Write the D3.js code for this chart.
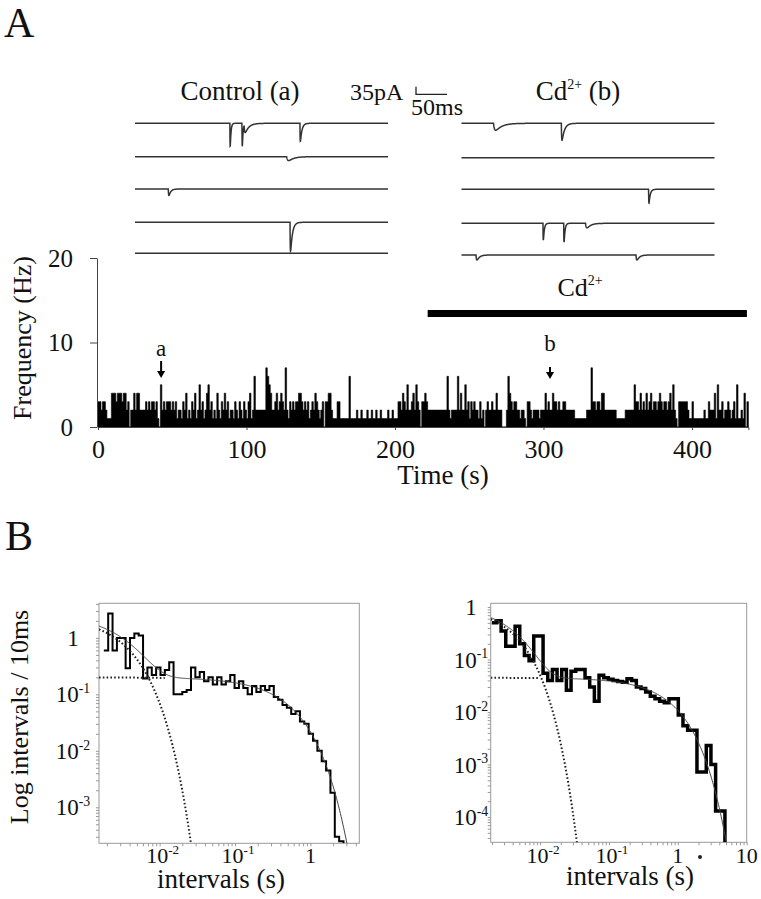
<!DOCTYPE html>
<html><head><meta charset="utf-8">
<script src="https://cdn.jsdelivr.net/npm/d3@7"></script>
<style>
body{margin:0;background:#fff}
svg{display:block;background:#fff}
text{font-family:"Liberation Serif","Times New Roman",serif;fill:#111}
</style>
</head><body>
<svg id="c" width="761" height="899"></svg>
<script>
// ---------------- DATA ----------------
// Panel A: spike frequency per 1-s bin (Hz)
const freqHz = [
3,3,2,3,3,2,1,1,1,4, 4,4,3,4,4,4,3,4,4,2, 3,0,2,2,4,2,4,4,2,2, 2,2,3,2,3,2,3,3,2,3,
1,0,5,2,3,2,3,3,3,2, 3,2,3,1,2,2,1,3,2,4, 1,2,1,3,2,4,1,2,5,2, 3,1,2,4,5,2,3,1,2,1,
4,2,1,3,2,4,2,3,1,2, 2,1,3,2,1,3,2,1,3,2, 1,3,4,1,2,6,2,2,2,2, 2,2,2,7,6,5,4,2,2,3,
4,2,3,4,3,2,7,2,1,3, 2,3,2,3,3,4,4,3,2,3, 2,3,1,2,3,2,4,3,2,1, 2,3,0,3,3,4,4,2,1,1,
1,3,3,1,1,1,1,1,1,6, 1,1,1,1,2,1,1,2,1,1, 1,2,1,1,2,1,1,2,1,1, 2,1,1,1,1,2,1,1,2,1,
1,1,3,3,2,4,3,2,5,2, 2,3,4,2,5,3,2,0,3,3, 4,3,2,2,2,2,2,2,2,2, 2,2,2,2,2,6,2,1,2,2,
2,2,6,2,4,2,2,5,2,3, 1,3,2,3,2,2,1,3,1,2, 0,2,3,2,2,3,2,2,4,2, 2,2,0,0,0,2,6,4,3,2,
3,3,2,2,1,2,2,1,0,3, 3,2,1,2,2,2,2,1,2,2, 2,4,2,3,2,2,4,3,3,2, 3,2,2,3,3,2,2,2,2,2,
2,1,1,1,1,1,1,1,1,2, 2,2,7,3,3,2,3,3,2,4, 4,2,2,2,2,2,2,2,2,1, 1,1,1,1,1,2,2,2,2,2,
2,5,3,3,2,4,2,3,2,4, 2,3,4,2,3,3,2,3,4,3, 2,3,3,2,3,4,2,5,2,1, 0,3,3,3,3,3,3,2,1,1,
3,1,1,1,1,1,1,1,2,1, 1,3,2,2,2,4,1,5,2,2, 3,1,2,2,3,2,1,2,3,1, 5,1,1,2,1,4,0,3
];
const timeTicks = [0, 100, 200, 300, 400];
const timeMinorTicks = [50, 150, 250, 350];
const freqTicks = [0, 10, 20];
const cdPeriod = [222, 437];
const markers = [{label: "a", t: 42.5}, {label: "b", t: 304.4}];

// Current traces: events [time ms, amplitude pA, rise ms, decay ms]
const controlTraces = [
  [[153, 106, 0.3, 1.2], [172.5, 106, 0.3, 1.2], [176, 40, 1, 6], [266, 83, 0.3, 2.5]],
  [[244.6, 18, 2, 8]],
  [[53.7, 30, 0.5, 3]],
  [[250, 133, 0.4, 3]],
  []
];
const cdTraces = [
  [[51.6, 32, 2, 10], [161, 78, 0.5, 4]],
  [],
  [[301.7, 64, 0.3, 2]],
  [[131.4, 78, 0.3, 1.5], [164.8, 87, 0.3, 1.5], [200, 21, 1.5, 6]],
  [[23.4, 23, 1, 4], [281.4, 23, 1, 4]]
];
const traceDuration = 408; // ms
const scaleBar = {pA: 35, ms: 50};

// Panel B: interval histograms (log bins) and two-exponential fits
const histL = {logStart: -2.74, logStep: 0.0578, values: [
 0.6,2.7,0.6,1.0,1.0,0.29,1.0,1.2,1.1,0.19,
 0.3,0.22,0.3,0.22,0.27,0.37,0.1,0.1,0.11,0.12,
 0.3,0.2,0.25,0.17,0.2,0.15,0.2,0.15,0.17,0.22,
 0.13,0.17,0.13,0.1,0.14,0.11,0.14,0.12,0.14,0.09,
 0.08,0.065,0.058,0.045,0.05,0.033,0.03,0.02,0.015,0.01,
 0.0065,0.0045,0.0018,0.0003,0.00025]};
const histR = {logStart: -2.701, logStep: 0.0677, values: [
 0.5,0.55,0.35,0.18,0.18,0.43,0.2,0.12,0.095,0.28,
 0.28,0.055,0.04,0.065,0.04,0.065,0.026,0.06,0.065,0.065,
 0.045,0.03,0.016,0.05,0.045,0.042,0.04,0.038,0.037,0.043,
 0.04,0.03,0.028,0.024,0.02,0.018,0.016,0.015,0.018,0.018,
 0.0088,0.0055,0.0045,0.0045,0.00072,0.00072,0.0023,0.001,0.00013,0.00013]};
const fitL = {A1: 2.49, tau1: 0.0028, A2: 0.2, tau2: 0.45, slowDotEnd: 0.0118};
const fitR = {A1: 1.05, tau1: 0.0033, A2: 0.045, tau2: 0.70, slowDotEnd: 0.010};
const yTicksL = [1, 0.1, 0.01, 0.001];
const yTicksR = [1, 0.1, 0.01, 0.001, 0.0001];
const xTicksL = [0.01, 0.1, 1];
const xTicksR = [0.01, 0.1, 1, 10];

// ---------------- DRAW ----------------
const svg = d3.select("#c");
const serif = '"Liberation Serif","Times New Roman",serif';

// Panel letters
svg.append("text").attr("x", 4).attr("y", 37).attr("font-size", 42).text("A");
svg.append("text").attr("x", 5).attr("y", 550).attr("font-size", 42).text("B");

// ---- Frequency histogram ----
const xA = d3.scaleLinear().domain([0, freqHz.length]).range([98, 748.4]);
const yA = d3.scaleLinear().domain([0, 20]).range([427, 258]);

const stepData = freqHz.map((v, i) => [i, v]).concat([[freqHz.length, freqHz[freqHz.length - 1]]]);
svg.append("path")
  .datum(stepData)
  .attr("fill", "#000").attr("stroke", "#000").attr("stroke-width", 0.6)
  .attr("d", d3.area().x(d => xA(d[0])).y0(yA(0)).y1(d => yA(d[1])).curve(d3.curveStepAfter));

// y axis (minor + major)
const gy = svg.append("g").attr("transform", "translate(97,0)");
gy.call(d3.axisLeft(yA).tickValues(d3.range(0, 20.01, 2.5)).tickSize(3).tickFormat(() => "").tickSizeOuter(0));
gy.call(d3.axisLeft(yA).tickValues(freqTicks).tickSize(7).tickPadding(17).tickSizeOuter(0));
gy.selectAll("text").attr("font-family", serif).attr("font-size", 25).attr("fill", "#111");
gy.selectAll("path,line").attr("stroke", "#444");

const gx = svg.append("g").attr("transform", "translate(0,427)");
gx.call(d3.axisBottom(xA).tickValues(timeMinorTicks).tickSize(3).tickFormat(() => "").tickSizeOuter(0));
gx.call(d3.axisBottom(xA).tickValues(timeTicks).tickSize(3).tickPadding(10).tickSizeOuter(3));
gx.selectAll("text").attr("font-family", serif).attr("font-size", 26).attr("fill", "#111");
gx.selectAll("path,line").attr("stroke", "#444");

svg.append("text").attr("x", 443).attr("y", 484).attr("text-anchor", "middle").attr("font-size", 27).text("Time (s)");
svg.append("text").attr("transform", "translate(31,338) rotate(-90)").attr("text-anchor", "middle")
  .attr("font-size", 26).text("Frequency (Hz)");

// Cd bar
svg.append("rect").attr("x", xA(cdPeriod[0])).attr("width", xA(cdPeriod[1]) - xA(cdPeriod[0]))
  .attr("y", 310).attr("height", 7).attr("fill", "#000");
const cdLab = svg.append("text").attr("x", 580).attr("y", 296).attr("text-anchor", "middle").attr("font-size", 26);
cdLab.append("tspan").text("Cd");
cdLab.append("tspan").attr("font-size", 14).attr("dy", -11).text("2+");

// markers
markers.forEach((m, i) => {
  const x = xA(m.t);
  const top = i === 0 ? 361 : 367, bot = i === 0 ? 378 : 379, ly = i === 0 ? 356 : 351;
  svg.append("text").attr("x", x).attr("y", ly).attr("text-anchor", "middle").attr("font-size", 23).text(m.label);
  svg.append("line").attr("x1", x).attr("x2", x).attr("y1", top).attr("y2", bot - 5).attr("stroke", "#000").attr("stroke-width", 2);
  svg.append("path").attr("d", `M${x - 4},${bot - 7}L${x + 4},${bot - 7}L${x},${bot}Z`).attr("fill", "#000");
});

// ---- Current traces ----
function traceSeries(events) {
  const pts = [];
  for (let t = 0; t <= traceDuration; t += 0.2) {
    let v = 0;
    events.forEach(([t0, A, tr, td]) => {
      if (t >= t0) {
        const s = t - t0;
        const peak = td / (tr + td) * Math.pow(tr / (tr + td), tr / td);
        v += A / peak * (1 - Math.exp(-s / tr)) * Math.exp(-s / td);
      }
    });
    pts.push([t, v]);
  }
  return pts;
}
const pA = d3.scaleLinear().domain([0, 35]).range([0, 7.6]);
function drawTraces(traces, x0, baselines) {
  const xT = d3.scaleLinear().domain([0, traceDuration]).range([x0, x0 + 253]);
  traces.forEach((ev, i) => {
    const b = baselines[i];
    svg.append("path").datum(traceSeries(ev))
      .attr("fill", "none").attr("stroke", "#333").attr("stroke-width", 1.5)
      .attr("d", d3.line().x(d => xT(d[0])).y(d => b + pA(d[1])));
  });
  return xT;
}
const xTc = drawTraces(controlTraces, 135, [123.3, 156.7, 189, 222.3, 253.3]);
drawTraces(cdTraces, 461.5, [123.3, 157.7, 189.3, 223.3, 255]);

svg.append("text").attr("x", 240).attr("y", 100).attr("text-anchor", "middle").attr("font-size", 27).text("Control (a)");
const cdb = svg.append("text").attr("x", 578).attr("y", 100).attr("text-anchor", "middle").attr("font-size", 27);
cdb.append("tspan").text("Cd");
cdb.append("tspan").attr("font-size", 14).attr("dy", -11).text("2+");
cdb.append("tspan").attr("dy", 11).text(" (b)");

// scale bar
const sbx = 416, sby = 94.3;
svg.append("path").attr("fill", "none").attr("stroke", "#222").attr("stroke-width", 1.3)
  .attr("d", `M${sbx},${sby - pA(scaleBar.pA)}V${sby}H${sbx + xTc(scaleBar.ms) - xTc(0)}`);
svg.append("text").attr("x", 350).attr("y", 100).attr("font-size", 24).text("35pA");
svg.append("text").attr("x", 411).attr("y", 115).attr("font-size", 24).text("50ms");

// ---- Panel B ----
function supLabel(g, v, x, y, size) {
  const t = g.append("text").attr("x", x).attr("y", y).attr("text-anchor", "middle").attr("font-size", size);
  const e = Math.round(Math.log10(v));
  if (e === 0) { t.text("1"); }
  else if (e === 1) { t.text("10"); }
  else { t.append("tspan").text("10"); t.append("tspan").attr("font-size", size * 0.6).attr("dy", -size * 0.4).text(String(e)); }
}
function logPanel(cfg) {
  const x = d3.scaleLog().domain(cfg.xDom).range([cfg.x0, cfg.x1]);
  const y = d3.scaleLog().domain(cfg.yDom).range([cfg.y1, cfg.y0]);
  const g = svg.append("g");
  const clipId = "clip" + cfg.id;
  svg.append("clipPath").attr("id", clipId).append("rect")
    .attr("x", cfg.x0).attr("y", cfg.y0).attr("width", cfg.x1 - cfg.x0).attr("height", cfg.y1 - cfg.y0);
  g.append("rect").attr("x", cfg.x0).attr("y", cfg.y0).attr("width", cfg.x1 - cfg.x0).attr("height", cfg.y1 - cfg.y0)
    .attr("fill", "none").attr("stroke", "#999").attr("stroke-width", 1);
  // minor ticks (no labels)
  const gxA = g.append("g").attr("transform", `translate(0,${cfg.y1})`)
    .call(d3.axisBottom(x).ticks(20).tickFormat(() => "").tickSize(3).tickSizeOuter(0));
  gxA.select(".domain").remove();
  gxA.selectAll("line").attr("stroke", "#999");
  const gyA = g.append("g").attr("transform", `translate(${cfg.x0},0)`)
    .call(d3.axisLeft(y).ticks(20).tickFormat(() => "").tickSize(3).tickSizeOuter(0));
  gyA.select(".domain").remove();
  gyA.selectAll("line").attr("stroke", "#999");

  // histogram stairs
  const h = cfg.hist;
  const pts = h.values.map((v, i) => [Math.pow(10, h.logStart + i * h.logStep), v]);
  pts.push([Math.pow(10, h.logStart + h.values.length * h.logStep), h.values[h.values.length - 1]]);
  const stairs = d3.line().x(d => x(d[0])).y(d => y(d[1])).curve(d3.curveStepAfter)(pts)
    + `V${cfg.y1}`;
  const gc = svg.append("g").attr("clip-path", `url(#${clipId})`);
  gc.append("path").attr("d", stairs).attr("fill", "none").attr("stroke", "#000")
    .attr("stroke-width", cfg.histW).attr("stroke-linejoin", "miter");

  // fits
  const f = cfg.fit;
  const ts = d3.range(0, 401).map(i => cfg.xDom[0] * Math.pow(cfg.xDom[1] / cfg.xDom[0], i / 400));
  const total = ts.map(t => [t, f.A1 * Math.exp(-t / f.tau1) + f.A2 * Math.exp(-t / f.tau2)]);
  const fast = ts.map(t => [t, f.A1 * Math.exp(-t / f.tau1)]).filter(d => d[1] > cfg.yDom[0] * 0.5);
  const slow = ts.filter(t => t <= f.slowDotEnd).map(t => [t, f.A2 * Math.exp(-t / f.tau2)]);
  const ln = d3.line().x(d => x(d[0])).y(d => y(Math.max(d[1], 1e-9)));
  gc.append("path").attr("d", ln(total)).attr("fill", "none").attr("stroke", "#444").attr("stroke-width", 1);
  gc.append("path").attr("d", ln(fast)).attr("fill", "none").attr("stroke", "#222").attr("stroke-width", 2)
    .attr("stroke-dasharray", "1.6 2.2");
  gc.append("path").attr("d", ln(slow)).attr("fill", "none").attr("stroke", "#222").attr("stroke-width", 2)
    .attr("stroke-dasharray", "1.6 2.2");

  // labels
  cfg.yTicks.forEach(v => supLabel(svg, v, cfg.yLabX, y(v) + 8, 23));
  cfg.xTicks.forEach(v => supLabel(svg, v, x(v) + (v < 1 ? 3 : 0), cfg.xLabY, 22));
  svg.append("text").attr("x", cfg.xTitleX).attr("y", cfg.xTitleY).attr("text-anchor", "middle")
    .attr("font-size", 27).text("intervals (s)");
  return {x, y};
}
logPanel({id: "L", x0: 99, x1: 359.3, y0: 603.3, y1: 843.3, xDom: [0.00157, 4.45], yDom: [2.3e-4, 4.1],
  hist: histL, histW: 2, fit: fitL, yTicks: yTicksL, xTicks: xTicksL, yLabX: 73, xLabY: 863, xTitleX: 221, xTitleY: 888});
logPanel({id: "R", x0: 490.7, x1: 746.7, y0: 603.3, y1: 842.3, xDom: [0.00192, 10], yDom: [3.3e-5, 1.18],
  hist: histR, histW: 3.5, fit: fitR, yTicks: yTicksR, xTicks: xTicksR, yLabX: 471, xLabY: 863, xTitleX: 630, xTitleY: 885});

svg.append("text").attr("transform", "translate(28,717) rotate(-90)").attr("text-anchor", "middle")
  .attr("font-size", 26).text("Log intervals / 10ms");
svg.append("circle").attr("cx", 700).attr("cy", 857).attr("r", 2).attr("fill", "#222");
</script>
</body></html>
